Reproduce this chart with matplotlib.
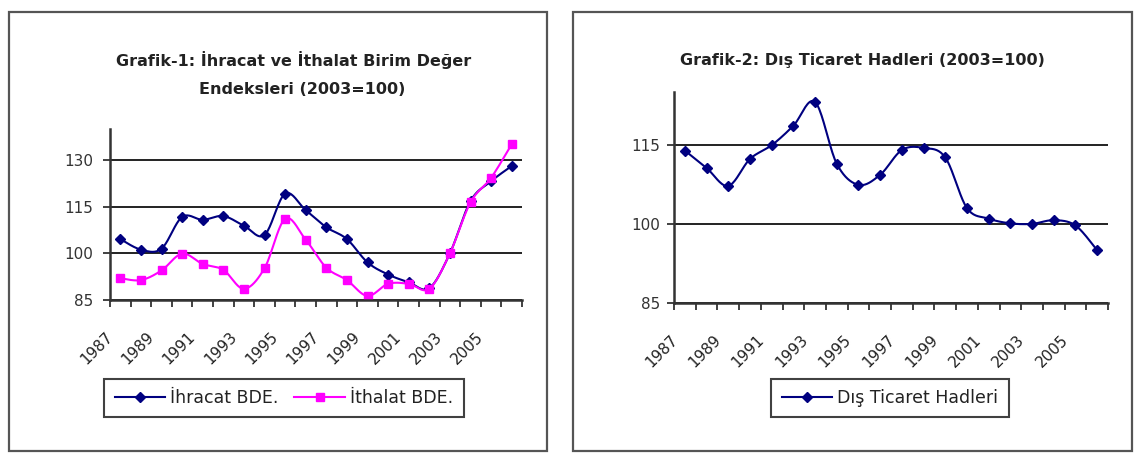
import numpy as np
import matplotlib.pyplot as plt
import matplotlib.transforms as mtrans
from matplotlib.patches import Rectangle

plt.rcParams['font.family'] = ['DejaVu Sans']

years = list(range(1987, 2007))
ihracat = [104.6, 101.2, 101.5, 111.7, 110.8, 112.0, 108.9, 105.9, 119.2, 113.9,
           108.4, 104.6, 97.1, 93.2, 90.7, 88.8, 100.0, 116.8, 123.2, 128.1]
ithalat = [92.0, 91.4, 94.5, 99.9, 96.6, 94.7, 88.6, 95.2, 111.1, 104.4,
           95.4, 91.4, 86.3, 90.2, 90.2, 88.6, 100.0, 116.4, 124.3, 135.1]
dis_ticaret = [113.9, 110.6, 107.2, 112.3, 114.9, 118.6, 123.1, 111.4, 107.4, 109.3,
               114.0, 114.4, 112.6, 103.0, 101.0, 100.1, 100.0, 100.7, 99.7, 95.0]
year_labels = [str(y) for y in years[::2]]

navy = '#000080'
pink = '#FF00FF'
txt = '#222222'


def smooth(x, y, n=20):
    # catmull-rom style curve, roughly what excel does with "smoothed line"
    x = np.asarray(x, float)
    y = np.asarray(y, float)
    px = np.concatenate([[x[0]], x, [x[-1]]])
    py = np.concatenate([[y[0]], y, [y[-1]]])
    xs, ys = [], []
    t = np.linspace(0, 1, n, endpoint=False)
    for i in range(1, len(px) - 2):
        p0, p1, p2, p3 = py[i - 1], py[i], py[i + 1], py[i + 2]
        q0, q1, q2, q3 = px[i - 1], px[i], px[i + 1], px[i + 2]
        c1y = p1 + (p2 - p0) / 6
        c2y = p2 - (p3 - p1) / 6
        c1x = q1 + (q2 - q0) / 6
        c2x = q2 - (q3 - q1) / 6
        b = lambda a, c, d, e: ((1 - t) ** 3 * a + 3 * (1 - t) ** 2 * t * c
                                + 3 * (1 - t) * t ** 2 * d + t ** 3 * e)
        xs.append(b(q1, c1x, c2x, q2))
        ys.append(b(p1, c1y, c2y, p2))
    xs.append([x[-1]])
    ys.append([y[-1]])
    return np.concatenate(xs), np.concatenate(ys)


def style_axes(ax, ymin, ymax, ypad):
    n = len(years)
    ax.set_xlim(0, n)
    ax.set_ylim(ymin, ymax)
    ax.set_yticks([85, 100, 115, 130] if ymax > 130 else [85, 100, 115])
    ax.set_xticks(np.arange(n + 1))
    ax.set_xticklabels([])
    ax.tick_params(axis='x', length=5, width=1.3, color='#333333')
    ax.tick_params(axis='y', length=5, width=1.3, color='#333333', labelsize=11,
                   labelcolor='#333333', pad=ypad)
    ax.yaxis.grid(True, color='#111111', lw=1.3)
    ax.set_axisbelow(True)
    for s in ['top', 'right']:
        ax.spines[s].set_visible(False)
    for s in ['left', 'bottom']:
        ax.spines[s].set_color('#333333')
        ax.spines[s].set_linewidth(1.8)
    # rotated year labels, every second category
    tr = mtrans.offset_copy(ax.get_xaxis_transform(), fig=ax.figure,
                            x=-15, y=-29, units='dots')
    for pos, lab in zip((np.arange(n) + 0.5)[::2], year_labels):
        ax.text(pos, 0, lab, transform=tr, rotation=45, rotation_mode='anchor',
                ha='right', va='top', fontsize=11, color=txt)


fig = plt.figure(figsize=(11.34, 4.58), dpi=100)

# panel frames
fig.patches.append(Rectangle((9 / 1134, 1 - 451 / 458), 538 / 1134, 439 / 458,
                             transform=fig.transFigure, fill=False,
                             ec='#555555', lw=1.6))
fig.patches.append(Rectangle((573 / 1134, 1 - 451 / 458), 559 / 1134, 439 / 458,
                             transform=fig.transFigure, fill=False,
                             ec='#555555', lw=1.6))

x = np.arange(len(years)) + 0.5

ax1 = fig.add_axes([110 / 1134, 1 - 300 / 458, 412 / 1134, 171 / 458])
style_axes(ax1, 85, 140, 7)
sx, sy = smooth(x, ihracat)
ax1.plot(sx, sy, color=navy, lw=1.5)
ax1.plot(x, ihracat, ls='none', marker='D', ms=5.2, color=navy)
sx, sy = smooth(x, ithalat)
ax1.plot(sx, sy, color=pink, lw=1.5)
ax1.plot(x, ithalat, ls='none', marker='s', ms=6.3, color=pink)
l1, = ax1.plot([], [], color=navy, lw=1.5, marker='D', ms=5.2)
l2, = ax1.plot([], [], color=pink, lw=1.5, marker='s', ms=6.3)
fig.text(294 / 1134, 1 - 60 / 458, 'Grafik-1: İhracat ve İthalat Birim Değer',
         ha='center', va='center', fontsize=11.5, fontweight='bold', color=txt)
fig.text(302 / 1134, 1 - 89 / 458, 'Endeksleri (2003=100)',
         ha='center', va='center', fontsize=11.5, fontweight='bold', color=txt)
leg1 = fig.legend([l1, l2], ['İhracat BDE.', 'İthalat BDE.'], loc='center',
                  bbox_to_anchor=(284 / 1134, 1 - 398 / 458), ncol=2, fontsize=12.5,
                  frameon=True, fancybox=False, edgecolor='#111111',
                  handlelength=2.9, handletextpad=0.3, columnspacing=0.9,
                  borderpad=0.6)
leg1.get_frame().set_linewidth(1.5)
for t in leg1.get_texts():
    t.set_color(txt)

ax2 = fig.add_axes([674 / 1134, 1 - 303 / 458, 434 / 1134, 211 / 458])
style_axes(ax2, 85, 125, 5)
sx, sy = smooth(x, dis_ticaret)
ax2.plot(sx, sy, color=navy, lw=1.5)
ax2.plot(x, dis_ticaret, ls='none', marker='D', ms=5.2, color=navy)
l3, = ax2.plot([], [], color=navy, lw=1.5, marker='D', ms=5.2)
fig.text(862 / 1134, 1 - 61 / 458, 'Grafik-2: Dış Ticaret Hadleri (2003=100)',
         ha='center', va='center', fontsize=11.5, fontweight='bold', color=txt)
leg2 = fig.legend([l3], ['Dış Ticaret Hadleri'], loc='center',
                  bbox_to_anchor=(890 / 1134, 1 - 398 / 458), fontsize=12.5,
                  frameon=True, fancybox=False, edgecolor='#111111',
                  handlelength=2.9, handletextpad=0.3, borderpad=0.6)
leg2.get_frame().set_linewidth(1.5)
for t in leg2.get_texts():
    t.set_color(txt)

fig.savefig('out.png', dpi=100)
